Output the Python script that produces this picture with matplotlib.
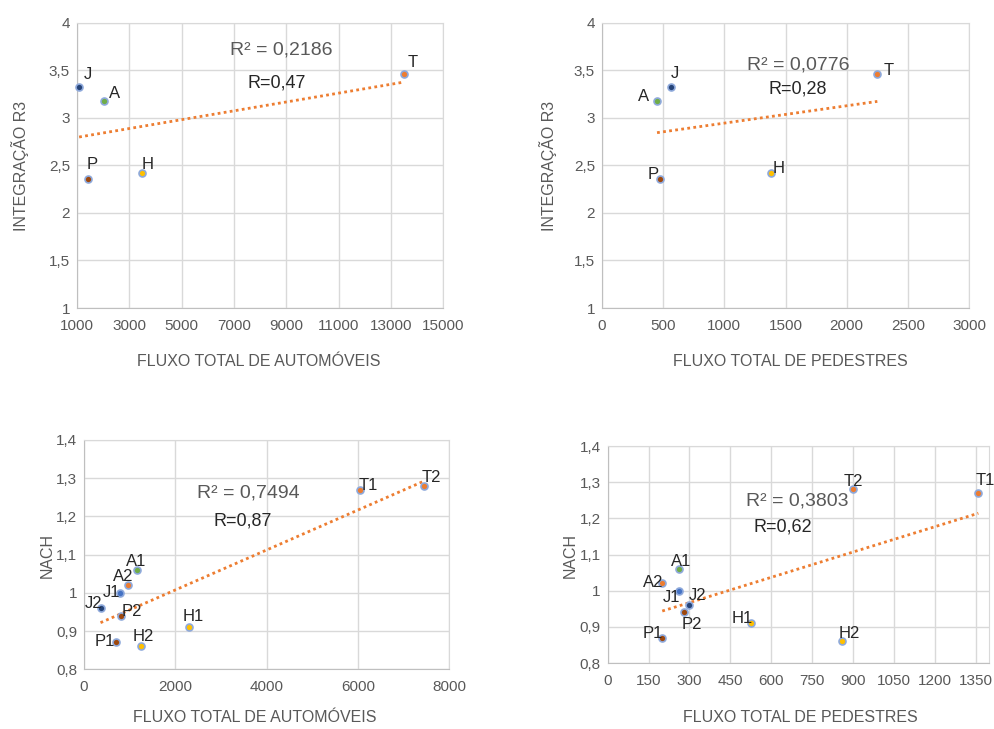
import matplotlib
matplotlib.use("Agg")
import matplotlib.pyplot as plt
from matplotlib.ticker import FuncFormatter
import numpy as np

plt.rcParams["font.family"] = ["Liberation Sans", "DejaVu Sans"]

# data
top_names = ["J", "A", "P", "H", "T"]
top_integ = [3.33, 3.18, 2.36, 2.42, 3.46]
top_auto = [1080, 2050, 1420, 3500, 13500]
top_ped = [560, 450, 474, 1380, 2250]

bot_names = ["T1", "T2", "A1", "A2", "J1", "J2", "P2", "H1", "P1", "H2"]
bot_nach = [1.27, 1.28, 1.06, 1.02, 1.00, 0.96, 0.94, 0.91, 0.87, 0.86]
bot_auto = [6050, 7450, 1150, 960, 790, 360, 810, 2300, 690, 1250]
bot_ped = [1360, 900, 260, 200, 260, 300, 280, 525, 200, 860]

r2_text = ["R² = 0,2186", "R² = 0,0776", "R² = 0,7494", "R² = 0,3803"]
r_text = ["R=0,47", "R=0,28", "R=0,87", "R=0,62"]

# styles
colors = {"J": "#264478", "A": "#70AD47", "P": "#9E480E", "H": "#FFC000", "T": "#ED7D31",
          "A1": "#70AD47", "A2": "#ED7D31", "J1": "#4472C4", "J2": "#264478",
          "P1": "#9E480E", "P2": "#9E480E", "H1": "#FFC000", "H2": "#FFC000",
          "T1": "#ED7D31", "T2": "#ED7D31"}
off_tl = {"J": (6.5, 8.6), "A": (7, 5), "P": (3, 10), "H": (4, 6.5), "T": (6.5, 8.6)}
off_tr = {"A": (-10, 3), "J": (3, 9.5), "P": (-5, 3), "H": (5.5, 3.5), "T": (8, 3)}
off_bl = {"T1": (6, 3), "T2": (5, 6), "A1": (0, 6), "A2": (-3.6, 6), "J1": (-6.5, 0.5),
          "J2": (-5, 3.3), "P2": (8, 3.4), "H1": (2.7, 7.4), "P1": (-8, 0.5), "H2": (1.7, 7.4)}
off_br = {"T2": (0, 6), "T1": (5, 9), "A1": (1.5, 5.5), "A2": (-6.5, 0.7), "J1": (-5, -5),
          "J2": (5.5, 7), "P2": (5.8, -9), "H1": (-6.5, 3.6), "P1": (-6.5, 3), "H2": (5, 5.5)}

grid_c = "#D9D9D9"
text_c = "#595959"
comma = FuncFormatter(lambda v, p: ("%g" % v).replace(".", ","))

fig = plt.figure(figsize=(9.95, 7.29), dpi=100)


def scatter_panel(rect, xs, ys, names, offsets, xlim, xticks, ylim, yticks, r2, r, r2pos, rpos):
    ax = fig.add_axes(rect)
    ax.set_xlim(*xlim)
    ax.set_ylim(*ylim)
    ax.set_xticks(xticks)
    ax.set_yticks(yticks)
    ax.yaxis.set_major_formatter(comma)
    ax.grid(True, color=grid_c, linewidth=1)
    ax.set_axisbelow(True)
    for s in ax.spines.values():
        s.set_color(grid_c)
    ax.spines["left"].set_color("#BFBFBF")
    ax.spines["bottom"].set_color("#BFBFBF")
    ax.tick_params(length=0, labelsize=11, labelcolor=text_c)
    ax.tick_params(axis="x", pad=8)
    ax.tick_params(axis="y", pad=5)

    # trend line over the data range
    k, b = np.polyfit(xs, ys, 1)
    tx = np.array([min(xs), max(xs)])
    ax.plot(tx, k * tx + b, color="#ED7D31", linewidth=2, linestyle=(0, (1, 1.2)), zorder=2)

    for x, y, n in zip(xs, ys, names):
        ax.plot(x, y, "o", markersize=5, markerfacecolor=colors[n],
                markeredgecolor="#8EA9DB", markeredgewidth=1.2, zorder=3, clip_on=False)
        ax.annotate(n, (x, y), xytext=offsets[n], textcoords="offset points",
                    ha="center", va="center", fontsize=12, color="#262626", annotation_clip=False)
    ax.text(r2pos[0], r2pos[1], r2, transform=ax.transAxes, ha="center", va="center",
            fontsize=14, color=text_c)
    ax.text(rpos[0], rpos[1], r, transform=ax.transAxes, ha="center", va="center",
            fontsize=13, color="#262626")
    return ax


scatter_panel([0.0774, 0.5775, 0.368, 0.391], top_auto, top_integ, top_names, off_tl,
              (1000, 15000), np.arange(1000, 15001, 2000), (1, 4), np.arange(1, 4.01, 0.5),
              r2_text[0], r_text[0], (0.557, 0.905), (0.545, 0.789))
scatter_panel([0.605, 0.5775, 0.369, 0.391], top_ped, top_integ, top_names, off_tr,
              (0, 3000), np.arange(0, 3001, 500), (1, 4), np.arange(1, 4.01, 0.5),
              r2_text[1], r_text[1], (0.534, 0.853), (0.532, 0.768))
scatter_panel([0.0845, 0.082, 0.367, 0.3145], bot_auto, bot_nach, bot_names, off_bl,
              (0, 8000), np.arange(0, 8001, 2000), (0.8, 1.4), np.arange(0.8, 1.401, 0.1),
              r2_text[2], r_text[2], (0.449, 0.769), (0.435, 0.647))
scatter_panel([0.6108, 0.0905, 0.3834, 0.2977], bot_ped, bot_nach, bot_names, off_br,
              (0, 1400), np.arange(0, 1351, 150), (0.8, 1.4), np.arange(0.8, 1.401, 0.1),
              r2_text[3], r_text[3], (0.496, 0.747), (0.458, 0.627))

fig.text(259 / 995, 1 - 362 / 729, "FLUXO TOTAL DE AUTOMÓVEIS", ha="center", va="center", fontsize=11.5, color=text_c)
fig.text(790 / 995, 1 - 362 / 729, "FLUXO TOTAL DE PEDESTRES", ha="center", va="center", fontsize=11.5, color=text_c)
fig.text(255 / 995, 1 - 718 / 729, "FLUXO TOTAL DE AUTOMÓVEIS", ha="center", va="center", fontsize=11.5, color=text_c)
fig.text(800 / 995, 1 - 717 / 729, "FLUXO TOTAL DE PEDESTRES", ha="center", va="center", fontsize=11.5, color=text_c)
fig.text(20 / 995, 1 - 166 / 729, "INTEGRAÇÃO R3", ha="center", va="center", rotation=90, fontsize=11.5, color=text_c)
fig.text(548 / 995, 1 - 166 / 729, "INTEGRAÇÃO R3", ha="center", va="center", rotation=90, fontsize=11.5, color=text_c)
fig.text(47 / 995, 1 - 555 / 729, "NACH", ha="center", va="center", rotation=90, fontsize=11.5, color=text_c)
fig.text(570 / 995, 1 - 555 / 729, "NACH", ha="center", va="center", rotation=90, fontsize=11.5, color=text_c)

fig.savefig("out.png", dpi=100)
